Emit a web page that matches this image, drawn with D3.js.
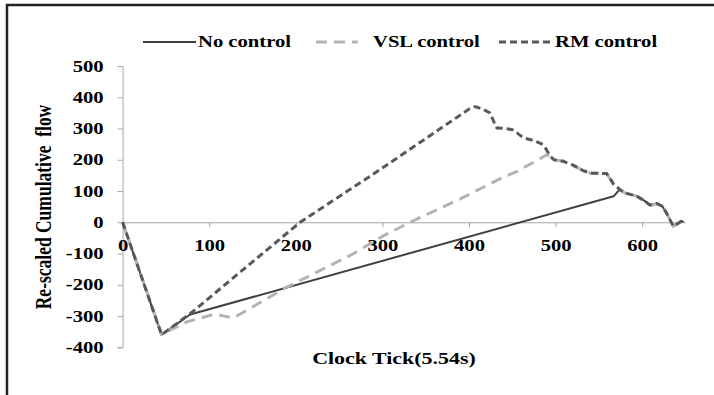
<!DOCTYPE html>
<html>
<head>
<meta charset="utf-8">
<script src="https://cdn.jsdelivr.net/npm/d3@7"></script>
<style>
  html, body { margin: 0; padding: 0; background: #fff; }
  svg { display: block; }
  text { font-family: "Liberation Serif", "Times New Roman", serif; font-weight: bold; fill: #000; }
</style>
</head>
<body>
<svg id="chart" width="714" height="395"></svg>
<script>
// Clock tick (x) and re-scaled cumulative flow (y) for each scenario
const noControlTick = [0, 45, 78, 567, 574, 580, 594, 602, 609, 613, 617, 623, 628, 636, 645, 648];
const noControlFlow = [0, -360, -295, 83, 105, 94, 83, 70, 55, 57, 60, 52, 30, -13, 3, 2];

const vslTick = [0, 45, 75, 106, 128, 188, 265, 300, 332, 390, 440, 455, 490, 494, 498, 509, 520, 532, 541, 559, 567, 574, 580, 594, 602, 609, 613, 617, 623, 628, 636, 645, 648];
const vslFlow = [0, -358, -318, -294, -306, -210, -103, -45, 0, 75, 145, 162, 216, 211, 200, 195, 183, 165, 157, 156, 122, 105, 94, 83, 70, 55, 57, 60, 52, 30, -13, 3, 2];

const rmTick = [0, 45, 80, 205, 297, 400, 407, 416, 424, 432, 443, 451, 463, 474, 486, 494, 498, 509, 520, 532, 541, 559, 567, 574, 580, 594, 602, 609, 613, 617, 623, 628, 636, 645, 648];
const rmFlow = [0, -360, -288, 0, 168, 362, 370, 362, 350, 302, 300, 295, 270, 262, 248, 211, 200, 195, 183, 165, 157, 156, 122, 105, 94, 83, 70, 55, 57, 60, 52, 30, -13, 3, 2];

const seriesNames = ["No control", "VSL control", "RM control"];
const xTicks = [0, 100, 200, 300, 400, 500, 600];
const yTicks = [-400, -300, -200, -100, 0, 100, 200, 300, 400, 500];

// text in this figure is set wide: glyphs are stretched horizontally
const WIDE = 1.29;
function widen(sel) {
  sel.each(function () {
    const t = d3.select(this);
    const ax = +t.attr("x") || 0;
    t.attr("transform", `translate(${ax},0) scale(${WIDE},1) translate(${-ax},0)`);
  });
}

const svg = d3.select("#chart");

// outer frame of the chart area
svg.append("rect")
  .attr("x", 7).attr("y", 5)
  .attr("width", 760).attr("height", 440)
  .attr("fill", "none")
  .attr("stroke", "#222").attr("stroke-width", 2.5);

const x = d3.scaleLinear().domain([0, 650]).range([122.6, 685.5]);
const y = d3.scaleLinear().domain([-400, 500]).range([347.3, 66]);

const axisColor = "#a6a6a6";

// y axis
const yAxis = svg.append("g")
  .attr("transform", `translate(${x(0)},0)`)
  .call(d3.axisLeft(y).tickValues(yTicks).tickSize(5).tickPadding(14).tickFormat(d3.format("d")));
yAxis.select(".domain").attr("stroke", axisColor);
yAxis.selectAll(".tick line").attr("stroke", axisColor);
yAxis.selectAll(".tick text")
  .style("font-size", "16px")
  .style("font-family", "Liberation Serif, serif")
  .style("font-weight", "bold")
  .text(d => d < 0 ? "-" + Math.abs(d) : d)
  .call(widen);

// x axis along the zero line
const xAxis = svg.append("g")
  .attr("transform", `translate(0,${y(0)})`)
  .call(d3.axisBottom(x).tickValues(xTicks).tickSize(5).tickSizeOuter(0).tickPadding(12).tickFormat(d3.format("d")));
xAxis.select(".domain").attr("stroke", axisColor);
xAxis.selectAll(".tick line").attr("stroke", axisColor)
  .attr("display", d => d === 0 ? "none" : null);
xAxis.selectAll(".tick text")
  .style("font-size", "16px")
  .style("font-family", "Liberation Serif, serif")
  .style("font-weight", "bold")
  .call(widen);

const line = d3.line().x(d => x(d[0])).y(d => y(d[1]));
const zip = (a, b) => a.map((v, i) => [v, b[i]]);

const styles = [
  { ticks: noControlTick, flow: noControlFlow, color: "#404040", width: 2, dash: null },
  { ticks: vslTick, flow: vslFlow, color: "#b3b3b3", width: 3, dash: "11,7" },
  { ticks: rmTick, flow: rmFlow, color: "#595959", width: 3, dash: "7,4" }
];

styles.forEach(s => {
  svg.append("path")
    .datum(zip(s.ticks, s.flow))
    .attr("d", line)
    .attr("fill", "none")
    .attr("stroke", s.color)
    .attr("stroke-width", s.width)
    .attr("stroke-dasharray", s.dash)
    .attr("stroke-linejoin", "round");
});

// legend
const legendItems = [
  { x1: 143, x2: 196, tx: 198 },
  { x1: 316, x2: 358, tx: 373 },
  { x1: 499, x2: 552, tx: 555 }
];
legendItems.forEach((item, i) => {
  const s = styles[i];
  svg.append("line")
    .attr("x1", item.x1).attr("x2", item.x2)
    .attr("y1", 42).attr("y2", 42)
    .attr("stroke", s.color)
    .attr("stroke-width", s.width)
    .attr("stroke-dasharray", s.dash);
  svg.append("text")
    .attr("x", item.tx).attr("y", 47.5)
    .style("font-size", "16px")
    .text(seriesNames[i])
    .call(widen);
});

// axis titles
svg.append("text")
  .attr("x", 394).attr("y", 364.5)
  .attr("text-anchor", "middle")
  .style("font-size", "17px")
  .text("Clock Tick(5.54s)")
  .call(widen);

svg.append("text")
  .attr("transform", `translate(51,207) scale(${WIDE},1) rotate(-90)`)
  .attr("text-anchor", "middle")
  .style("font-size", "17.5px")
  .attr("xml:space", "preserve")
  .text("Re-scaled Cumulative  flow");
</script>
</body>
</html>
